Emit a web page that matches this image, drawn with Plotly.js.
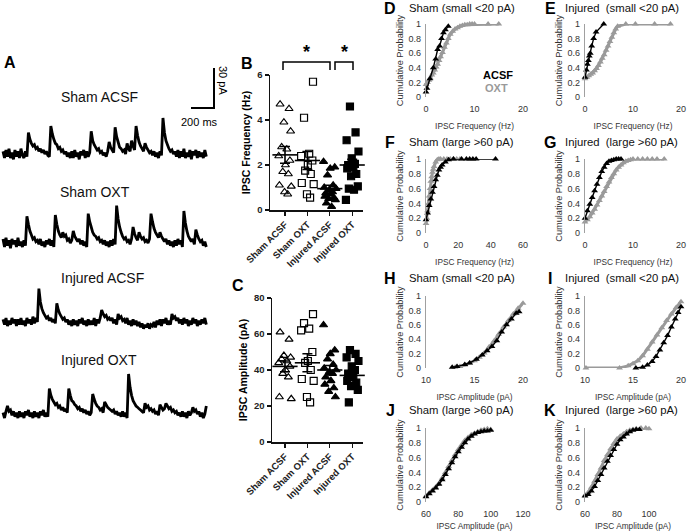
<!DOCTYPE html>
<html><head><meta charset="utf-8">
<script src="https://cdn.plot.ly/plotly-3.0.1.min.js"></script>
<style>html,body{margin:0;padding:0;background:#fff}#chart{width:688px;height:531px}</style>
</head><body><div id="chart"></div>
<script>
// ---------- Panel A: example traces (pA relative to baseline, one sample every 13 ms) ----------
const traceNames = ["Sham ACSF", "Sham OXT", "Injured ACSF", "Injured OXT"];
const traceShamAcsf = [2,-3,3,-2,4,-3,1,-4,3,-2,2,-3,4,-1,-3,2,-2,
 16,11,8,6,7,4,5,2,4,1,3,0,2,-1, -2,
 21,15,11,8,7,4,5,2,3,0,2,-2,1,-3,
 2,-3,3,-2,1,-4,2,-1,3,-3,2,-2,1,
 17,10,7,5,3,4,1,2,-1,1,-2,2,
 9,5,3,1, 20,13,9,5,4,2,3,0, 8,4,2, 10,6,3, 21,14,9,6,4,2,
 8,5,3,1,2,-1,2,-2,1,-3,2,-1,
 27,16,10,7,4,2,3,0,2,-2,
 3,-3,2,-2,4,-3,1,-2,3,-4,2,-1,3,-3,2,-2,1,-3,3,-2];
const traceShamOxt = [3,-3,4,-2,2,-4,3,-1,2,-3,4,-2,1,-3,2,-2,
 20,14,9,6,3,4,1,2,-1,3,-2,1,-3,2,-1,3,-2,2,-3,
 21,14,9,6,4, 8,5,6,2,3,0,2, 9,5,3,1,3,-1,2,-2,1,-3,
 22,16,12,8,6,5,3,4,1,2,-1,2,-2,1,-3,2,-2,3,-1,
 28,18,12,8,5,3,4,1,2,-1,3, 12,7,4,2, 8,5,3,4,1,2,0,3,
 22,16,11,8,6, 4,
 8,5,3,1,3,-1,2,-2,1,-3,2,-2,3,-1,2,-3,
 24,15,9,5,3,1,3,-1, 10,6,3,1,2,-2,1,-3];
const traceInjAcsf = [2,-2,3,-3,1,-2,3,-1,2,-3,2,-2,3,-2,1,-3,3,-1,2,-2,4,-1,3,0,
 25,15,10,7,5,3,4,1,3,0,2,-1,
 14,9,6,4,2,3,0,2,-2,1,-3,2,-2,1,-3,2,-1,3,-2,1,-3,2,-2,1,-2,3,-3,2,-1,3,
 9,6,4,5,2,3,1,3,-1,2,-2,
 6,3,4,1,2,-1,3,-2,1,-3,2,-2,1,-3,0,-4,-1,-5,-2,-4,-1,-5,-2,-3,0,-4,1,-2,2,-3,2,-1,3,-2,1,-2,
 6,3,4,1,3,-1,2,-2,3,-1,2,-3,1,-2,3,-1,2,-3,1,-2,2,-1,3,-2];
const traceInjOxt = [1,-3,2,
 6,2,3,-1,2,-2,1,-3,2,-2,1,-3,2,-1,3,-2,1,-3,2,-2,1,-3,2,-1,3,-2,1,-2,
 19,14,11,9,7,8,5,6,3,5,2,4,1,
 19,14,10,9,7,6,4,5,2,4,1,3,0,2,-1,1,
 15,11,8,6,5,3,4,1,
 9,7,5,4,3,2,3,0,2,-1,1,-2,2,-2,1,-3,
 30,20,14,10,8,6,5,4,3,2,1,
 8,5,6,3,4,2,3,0,2,-1,
 7,5,3,4,
 8,6,4,5,2,3,1,2,-1,1,-2,2,-2,1,-3,2,-1,1,
 5,2,3,0,2,-2,1,-3,0, 6];
const scaleBarPa = 30, scaleBarMs = 200;

// ---------- Panels B, C ----------
const groups = ["Sham ACSF", "Sham OXT", "Injured ACSF", "Injured OXT"];
const freqShamAcsf = [4.7, 4.5, 3.9, 3.5, 2.8, 2.7, 2.4, 2.2, 2.0, 1.7, 1.6, 1.1, 1.05, 0.8, 0.7];
const freqShamOxt  = [5.7, 4.1, 2.5, 2.4, 2.2, 2.0, 1.75, 1.6, 1.2, 1.15, 0.7, 0.55];
const freqInjAcsf  = [2.15, 1.9, 1.85, 1.55, 1.1, 1.0, 0.95, 0.9, 0.8, 0.75, 0.7, 0.6, 0.55, 0.5, 0.45, 0.3, 0.15];
const freqInjOxt   = [4.6, 3.45, 3.1, 2.6, 2.3, 2.05, 2.0, 1.9, 1.85, 1.6, 1.5, 1.05, 0.95, 0.9, 0.45];
const freqMean = [2.45, 2.2, 0.95, 2.0];
const freqSem  = [0.37, 0.4, 0.15, 0.25];
const ampShamAcsf = [61, 57, 48, 47, 46, 45, 44, 42, 40, 38, 36, 25, 24];
const ampShamOxt  = [71, 66, 63, 62, 50, 45, 44, 40, 35, 34, 25, 22];
const ampInjAcsf  = [65, 51, 49, 46, 43, 41, 40, 39, 38, 36, 34, 32, 30, 28, 25];
const ampInjOxt   = [51, 49, 47, 45, 42, 40, 38, 36, 34, 33, 31, 29, 22];
const ampMean = [42, 44, 40, 37];
const ampSem  = [3, 5, 2.5, 2.5];

// ---------- Panels D-K: cumulative probability ----------
const dAcsfX = [0, 0.2, 0.8, 1.5, 2.0, 2.4, 2.8, 3.2, 3.6, 4.0, 4.6];
const dAcsfY = [0.07, 0.12, 0.25, 0.4, 0.52, 0.65, 0.7, 0.8, 0.88, 0.92, 0.97];
const dOxtX = [0, 0.3, 0.6, 0.9, 1.2, 1.5, 1.8, 2.1, 2.4, 2.7, 3.0, 3.4, 3.8, 4.2, 4.6, 5.0, 5.5, 6.0, 6.5, 7.0, 7.5, 8.0, 8.5, 9.0, 9.5, 10.0, 12.8, 15.0];
const dOxtY = [0.17, 0.2, 0.23, 0.26, 0.3, 0.33, 0.37, 0.41, 0.45, 0.5, 0.55, 0.61, 0.68, 0.74, 0.8, 0.86, 0.9, 0.93, 0.95, 0.97, 0.98, 0.99, 0.99, 1, 1, 1, 1, 1];
const eAcsfX = [0, 0.3, 0.5, 0.7, 0.9, 1.1, 1.4, 1.8, 2.3, 3.9];
const eAcsfY = [0.27, 0.37, 0.45, 0.5, 0.56, 0.6, 0.7, 0.8, 0.89, 1.0];
const eOxtX = [0, 0.4, 0.8, 1.2, 1.6, 2.0, 2.4, 2.8, 3.2, 3.6, 4.0, 4.4, 4.8, 5.2, 5.6, 6.0, 6.4, 6.8, 8.5, 10.5, 14.5, 17.8];
const eOxtY = [0.25, 0.27, 0.29, 0.31, 0.33, 0.36, 0.39, 0.43, 0.48, 0.53, 0.58, 0.64, 0.7, 0.76, 0.82, 0.88, 0.93, 0.97, 1, 1, 1, 1];
const fAcsfX = [0, 1, 2, 3, 4, 5, 6, 7, 8, 9, 10, 12, 14, 17, 22, 25, 27, 29, 31, 43];
const fAcsfY = [0.18, 0.27, 0.37, 0.46, 0.55, 0.63, 0.72, 0.78, 0.85, 0.89, 0.92, 0.96, 0.99, 1, 1, 1, 1, 1, 1, 1];
const fOxtX = [0, 0.5, 1, 1.5, 2, 2.5, 3, 3.5, 4, 4.5, 5, 6, 7, 8, 9, 11, 13, 15, 17, 19, 21];
const fOxtY = [0.13, 0.2, 0.3, 0.4, 0.5, 0.6, 0.7, 0.76, 0.82, 0.86, 0.9, 0.96, 0.99, 1, 1, 1, 1, 1, 1, 1, 1];
const gAcsfX = [0, 0.5, 1, 1.5, 2, 2.5, 3, 3.5, 4, 4.5, 5, 5.5, 6, 6.5, 7, 7.5];
const gAcsfY = [0.2, 0.3, 0.39, 0.48, 0.57, 0.66, 0.75, 0.83, 0.89, 0.94, 0.97, 0.98, 0.99, 1, 1, 1];
const gOxtX = [0, 0.5, 1, 1.5, 2, 2.5, 3, 3.5, 4, 4.5, 5, 5.5, 6, 6.5, 7, 7.5, 8, 8.5, 9, 9.5, 10, 11, 12, 13, 14, 15, 16.5];
const gOxtY = [0.15, 0.18, 0.22, 0.27, 0.32, 0.38, 0.44, 0.5, 0.56, 0.63, 0.69, 0.75, 0.8, 0.85, 0.89, 0.92, 0.95, 0.97, 0.98, 0.99, 1, 1, 1, 1, 1, 1, 1];
const hAcsfX = [12.7, 13.2, 14, 14.5, 15.2, 15.8, 16.3, 16.8, 17.3, 17.8, 18.3, 18.8, 19.3, 19.6];
const hAcsfY = [0.01, 0.02, 0.05, 0.07, 0.12, 0.18, 0.24, 0.3, 0.38, 0.5, 0.6, 0.68, 0.76, 0.78];
const hOxtX = [13, 13.5, 14, 14.5, 15, 15.5, 16, 16.5, 17, 17.5, 18, 18.5, 19, 19.5, 20];
const hOxtY = [0.01, 0.02, 0.04, 0.07, 0.1, 0.15, 0.21, 0.29, 0.37, 0.47, 0.57, 0.66, 0.75, 0.83, 0.9];
const iAcsfX = [15.3, 16, 16.5, 17, 17.4, 17.8, 18.2, 18.6, 19, 19.4, 19.7, 20];
const iAcsfY = [0, 0.01, 0.04, 0.09, 0.16, 0.25, 0.35, 0.45, 0.57, 0.68, 0.77, 0.85];
const iOxtX = [10.1, 13.6, 14.5, 15, 15.5, 16, 16.5, 17, 17.5, 18, 18.5, 19, 19.5, 20];
const iOxtY = [0, 0, 0.03, 0.06, 0.1, 0.17, 0.26, 0.36, 0.46, 0.56, 0.66, 0.75, 0.84, 0.92];
const jAcsfX = [60, 62, 64, 66, 68, 70, 72, 74, 76, 78, 80, 82, 84, 86, 88, 90, 92, 94, 96, 98, 100];
const jAcsfY = [0.07, 0.11, 0.15, 0.19, 0.24, 0.3, 0.37, 0.45, 0.53, 0.61, 0.68, 0.74, 0.8, 0.85, 0.89, 0.92, 0.94, 0.95, 0.96, 0.96, 0.97];
const jOxtX = [60, 62, 64, 66, 68, 70, 72, 74, 76, 78, 80, 82, 84, 86, 88, 90, 92, 94, 96, 98, 100];
const jOxtY = [0.08, 0.12, 0.16, 0.2, 0.25, 0.32, 0.4, 0.48, 0.56, 0.64, 0.71, 0.77, 0.83, 0.87, 0.91, 0.93, 0.95, 0.97, 0.98, 0.99, 0.98];
const kAcsfX = [60, 62, 64, 66, 68, 70, 72, 74, 76, 78, 80, 82, 84, 86, 88, 90, 92, 94];
const kAcsfY = [0.08, 0.1, 0.15, 0.21, 0.29, 0.37, 0.46, 0.55, 0.63, 0.71, 0.78, 0.84, 0.88, 0.92, 0.95, 0.97, 0.98, 0.98];
const kOxtX = [60, 62, 64, 66, 68, 70, 72, 74, 76, 78, 80, 82, 84, 86, 88, 90, 92, 95, 98, 100];
const kOxtY = [0.09, 0.13, 0.2, 0.28, 0.37, 0.46, 0.56, 0.64, 0.72, 0.79, 0.85, 0.89, 0.92, 0.95, 0.97, 0.98, 0.99, 1, 1, 0.99];

// ================= drawing =================
const W = 688, H = 531;
const FONT = '"Liberation Sans", Arial, sans-serif';
const fx = v => v / W, fy = v => 1 - v / H;
const domX = (a, b) => [fx(a), fx(b)];
const domY = (top, bottom) => [fy(bottom), fy(top)];
const GRAY = '#9a9a9a';

const data = [];
const layout = {
  width: W, height: H, margin: {l: 0, r: 0, t: 0, b: 0},
  paper_bgcolor: '#fff', plot_bgcolor: 'rgba(0,0,0,0)', showlegend: false,
  font: {family: FONT, color: '#000'}, annotations: [], shapes: []
};

// ---- Panel A ----
const msPerPx = scaleBarMs / 23, paPerPx = scaleBarPa / 40, dt = 13;
layout.xaxis = {domain: domX(0, 240), range: [-3 * msPerPx, 237 * msPerPx], visible: false, anchor: 'y', fixedrange: true};
layout.yaxis = {domain: domY(60, 440), range: [0, 380 * paPerPx], visible: false, anchor: 'x', fixedrange: true};
const baselinesPx = [154, 243, 322, 414];
const labelPx = [[99, 97], [95, 192], [103, 278], [99, 360]];
[traceShamAcsf, traceShamOxt, traceInjAcsf, traceInjOxt].forEach((tr, k) => {
  const off = (440 - baselinesPx[k]) * paPerPx;
  data.push({type: 'scatter', mode: 'lines', xaxis: 'x', yaxis: 'y',
    x: tr.map((v, i) => i * dt), y: tr.map(v => v + off),
    line: {color: '#000', width: 2.8, simplify: false}, hoverinfo: 'skip'});
  layout.annotations.push({xref: 'paper', yref: 'paper', x: fx(labelPx[k][0]), y: fy(labelPx[k][1]),
    text: traceNames[k], showarrow: false, font: {size: 14, color: '#111'}, xanchor: 'center', yanchor: 'middle'});
});
const sbX = (214 - 3) * msPerPx, sbY = (440 - 108) * paPerPx;
data.push({type: 'scatter', mode: 'lines', xaxis: 'x', yaxis: 'y',
  x: [sbX - scaleBarMs, sbX, sbX], y: [sbY, sbY, sbY + scaleBarPa],
  line: {color: '#000', width: 2}, hoverinfo: 'skip'});
layout.annotations.push({xref: 'paper', yref: 'paper', x: fx(223), y: fy(80), text: scaleBarPa + ' pA', textangle: 90,
  showarrow: false, font: {size: 11}, xanchor: 'center', yanchor: 'middle'});
layout.annotations.push({xref: 'paper', yref: 'paper', x: fx(199), y: fy(122), text: scaleBarMs + ' ms',
  showarrow: false, font: {size: 11}, xanchor: 'center', yanchor: 'middle'});

// ---- Panels B & C ----
const jit = [-0.22, 0.18, -0.05, 0.25, -0.15, 0.08, -0.28, 0.22, 0.02, -0.1, 0.15, -0.25, 0.28, -0.02, 0.12, -0.18, 0.05];
const syms = ['triangle-up-open', 'square-open', 'triangle-up', 'square'];
const boldTick = {family: FONT, size: 9.5, weight: 'bold', color: '#222'};
function dotPanel(xa, ya, sets, means, sems) {
  sets.forEach((vals, g) => {
    data.push({type: 'scatter', mode: 'markers', xaxis: xa, yaxis: ya, cliponaxis: false,
      x: vals.map((v, i) => g + jit[(i + g * 3) % jit.length]), y: vals,
      marker: {symbol: syms[g], size: 7, color: '#000', line: {color: '#000', width: 1.2}}, hoverinfo: 'skip'});
  });
  data.push({type: 'scatter', mode: 'markers', xaxis: xa, yaxis: ya, cliponaxis: false,
    x: [0, 1, 2, 3], y: means,
    marker: {symbol: 'line-ew', size: 18, line: {color: '#000', width: 1.6}},
    error_y: {type: 'data', array: sems, visible: true, color: '#000', thickness: 1.6, width: 5}, hoverinfo: 'skip'});
}
function catAxis(a, b) {
  return {domain: domX(a, b), range: [(a - 285) / 22.4, (b - 285) / 22.4], tickvals: [0, 1, 2, 3], ticktext: groups,
    tickangle: -45, tickfont: boldTick, showline: true, linecolor: '#111', linewidth: 1.5, ticks: 'outside',
    ticklen: 4, tickwidth: 1.2, tickcolor: '#111', showgrid: false, zeroline: false, fixedrange: true};
}
function valAxis(top, bottom, max, step, title) {
  return {domain: domY(top, bottom), range: [0, max], dtick: step, tick0: 0, showline: true, linecolor: '#111', linewidth: 1.5,
    ticks: 'outside', ticklen: 4, tickwidth: 1.2, tickcolor: '#111', tickfont: boldTick, showgrid: false, zeroline: false,
    title: {text: title, font: {family: FONT, size: 10.5, weight: 'bold'}, standoff: 4}, fixedrange: true};
}
layout.xaxis2 = Object.assign(catAxis(270, 363), {anchor: 'y2'});
layout.yaxis2 = Object.assign(valAxis(75, 210, 6, 2, 'IPSC Frequency (Hz)'), {anchor: 'x2'});
layout.xaxis3 = Object.assign(catAxis(272, 363), {anchor: 'y3'});
layout.yaxis3 = Object.assign(valAxis(298, 442, 80, 20, 'IPSC Amplitude (pA)'), {anchor: 'x3'});
dotPanel('x2', 'y2', [freqShamAcsf, freqShamOxt, freqInjAcsf, freqInjOxt], freqMean, freqSem);
dotPanel('x3', 'y3', [ampShamAcsf, ampShamOxt, ampInjAcsf, ampInjOxt], ampMean, ampSem);
// significance brackets
[[283, 330], [335, 353]].forEach(([a, b]) => {
  layout.shapes.push({type: 'path', xref: 'paper', yref: 'paper',
    path: `M ${fx(a)} ${fy(70)} L ${fx(a)} ${fy(62)} L ${fx(b)} ${fy(62)} L ${fx(b)} ${fy(70)}`,
    line: {color: '#000', width: 1.5}});
  layout.annotations.push({xref: 'paper', yref: 'paper', x: fx((a + b) / 2), y: fy(52), text: '*', showarrow: false,
    font: {size: 18, weight: 'bold'}, xanchor: 'center', yanchor: 'middle'});
});

// ---- Panels D-K ----
const cols = [[426, 523], [585, 681]];
const rows = [[24, 97], [159, 233], [296, 368], [428, 502]];
const cdf = [
  {L: 'D', t: 'Sham (small <20 pA)', a: [dAcsfX, dAcsfY], o: [dOxtX, dOxtY], r: [0, 20], d: 10, xt: 'IPSC Frequency (Hz)'},
  {L: 'E', t: 'Injured\u00a0 (small <20 pA)', a: [eAcsfX, eAcsfY], o: [eOxtX, eOxtY], r: [0, 20], d: 10, xt: 'IPSC Frequency (Hz)'},
  {L: 'F', t: 'Sham (large >60 pA)', a: [fAcsfX, fAcsfY], o: [fOxtX, fOxtY], r: [0, 60], d: 20, xt: 'IPSC Frequency (Hz)'},
  {L: 'G', t: 'Injured\u00a0 (large >60 pA)', a: [gAcsfX, gAcsfY], o: [gOxtX, gOxtY], r: [0, 20], d: 10, xt: 'IPSC Frequency (Hz)'},
  {L: 'H', t: 'Sham (small <20 pA)', a: [hAcsfX, hAcsfY], o: [hOxtX, hOxtY], r: [10, 20], d: 5, xt: 'IPSC Amplitude (pA)'},
  {L: 'I', t: 'Injured\u00a0 (small <20 pA)', a: [iAcsfX, iAcsfY], o: [iOxtX, iOxtY], r: [10, 20], d: 5, xt: 'IPSC Amplitude (pA)'},
  {L: 'J', t: 'Sham (large >60 pA)', a: [jAcsfX, jAcsfY], o: [jOxtX, jOxtY], r: [60, 120], d: 20, xt: 'IPSC Amplitude (pA)'},
  {L: 'K', t: 'Injured\u00a0 (large >60 pA)', a: [kAcsfX, kAcsfY], o: [kOxtX, kOxtY], r: [60, 120], d: 20, xt: 'IPSC Amplitude (pA)'}
];
const tickF = {family: FONT, size: 9, color: '#333'};
cdf.forEach((p, k) => {
  const n = k + 4, c = cols[k % 2], r = rows[Math.floor(k / 2)];
  layout['xaxis' + n] = {domain: domX(c[0], c[1]), range: p.r, tick0: p.r[0], dtick: p.d, anchor: 'y' + n,
    showline: false, ticks: '', showgrid: false, zeroline: false, tickfont: tickF, ticklabelstandoff: 5,
    title: {text: p.xt, font: {family: FONT, size: 8.3, color: '#333'}, standoff: 10}, fixedrange: true};
  layout['yaxis' + n] = {domain: domY(r[0], r[1]), range: [0, 1], dtick: 0.2, tick0: 0, anchor: 'x' + n,
    showline: true, linecolor: '#a0a0a0', linewidth: 1.2, ticks: '', showgrid: false, zeroline: false, tickfont: tickF,
    ticklabelstandoff: 2,
    title: {text: 'Cumulative Probability', font: {family: FONT, size: 9.2, color: '#333'}, standoff: 3}, fixedrange: true};
  data.push({type: 'scatter', mode: 'lines+markers', xaxis: 'x' + n, yaxis: 'y' + n, cliponaxis: false,
    x: p.o[0], y: p.o[1], line: {color: GRAY, width: 3}, marker: {symbol: 'triangle-up', size: 6, color: GRAY}, hoverinfo: 'skip'});
  data.push({type: 'scatter', mode: 'lines+markers', xaxis: 'x' + n, yaxis: 'y' + n, cliponaxis: false,
    x: p.a[0], y: p.a[1], line: {color: '#000', width: 1.4}, marker: {symbol: 'triangle-up', size: 6, color: '#000'}, hoverinfo: 'skip'});
  const lx = k % 2 === 0 ? 390 : 550, tx = k % 2 === 0 ? 407 : 563, ty = [8, 142, 278, 410][Math.floor(k / 2)];
  layout.annotations.push({xref: 'paper', yref: 'paper', x: fx(lx), y: fy(ty), text: p.L, showarrow: false,
    font: {size: 16, weight: 'bold'}, xanchor: 'center', yanchor: 'middle'});
  layout.annotations.push({xref: 'paper', yref: 'paper', x: fx(tx), y: fy(ty), text: p.t, showarrow: false,
    font: {size: 11.3, color: '#111'}, xanchor: 'left', yanchor: 'middle'});
});
layout.annotations.push({xref: 'paper', yref: 'paper', x: fx(498), y: fy(75), text: 'ACSF', showarrow: false,
  font: {size: 11, weight: 'bold', color: '#000'}, xanchor: 'center', yanchor: 'middle'});
layout.annotations.push({xref: 'paper', yref: 'paper', x: fx(497), y: fy(88), text: 'OXT', showarrow: false,
  font: {size: 11, weight: 'bold', color: GRAY}, xanchor: 'center', yanchor: 'middle'});
// panel letters A-C
[['A', 10, 62], ['B', 247, 63], ['C', 238, 285]].forEach(([t, x, y]) => {
  layout.annotations.push({xref: 'paper', yref: 'paper', x: fx(x), y: fy(y), text: t, showarrow: false,
    font: {size: 16, weight: 'bold'}, xanchor: 'center', yanchor: 'middle'});
});

Plotly.newPlot('chart', data, layout, {staticPlot: true, displayModeBar: false});
</script></body></html>
